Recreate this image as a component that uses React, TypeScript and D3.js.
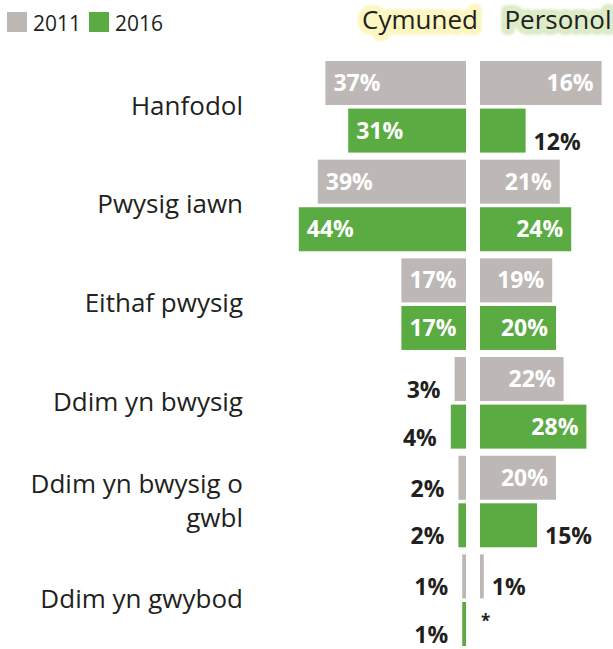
import React from "react";
import * as d3 from "d3";

// categories and series
const categories = [
  "Hanfodol",
  "Pwysig iawn",
  "Eithaf pwysig",
  "Ddim yn bwysig",
  "Ddim yn bwysig o gwbl",
  "Ddim yn gwybod",
];
const years = ["2011", "2016"];

const community2011 = [37, 39, 17, 3, 2, 1];
const community2016 = [31, 44, 17, 4, 2, 1];
// first bar is drawn at twice its labelled length in the source
const personal2011 = [32, 21, 19, 22, 20, 1];
const personal2016 = [12, 24, 20, 28, 15, 0];

const community2011Labels = ["37%", "39%", "17%", "3%", "2%", "1%"];
const community2016Labels = ["31%", "44%", "17%", "4%", "2%", "1%"];
const personal2011Labels = ["16%", "21%", "19%", "22%", "20%", "1%"];
const personal2016Labels = ["12%", "24%", "20%", "28%", "15%", "*"];

const categoryLines: Record<string, string[]> = {
  "Ddim yn bwysig o gwbl": ["Ddim yn bwysig o", "gwbl"],
};

const GREY = "#bdb8b5";
const GREEN = "#5aab41";
const INK = "#231f20";
const FONT = "'Open Sans', 'Noto Sans', sans-serif";

const W = 613;
const H = 649;

export default function App() {
  const y = d3
    .scaleBand<string>()
    .domain(categories)
    .range([61, 646])
    .paddingInner(0.072)
    .paddingOuter(0);

  const yYear = d3
    .scaleBand<string>()
    .domain(years)
    .range([0, y.bandwidth()])
    .paddingInner(0.075);

  const xLeft = d3.scaleLinear().domain([0, 50]).range([466, 276]);
  const xRight = d3.scaleLinear().domain([0, 50]).range([480, 670]);

  const colour = d3.scaleOrdinal<string, string>().domain(years).range([GREY, GREEN]);

  const panels = [
    { side: "left", x: xLeft, series: [community2011, community2016], labels: [community2011Labels, community2016Labels] },
    { side: "right", x: xRight, series: [personal2011, personal2016], labels: [personal2011Labels, personal2016Labels] },
  ];

  const bars: React.ReactNode[] = [];
  panels.forEach((p) => {
    years.forEach((yr, si) => {
      p.series[si].forEach((v, i) => {
        const cat = categories[i];
        const top = (y(cat) ?? 0) + (yYear(yr) ?? 0);
        const h = yYear.bandwidth();
        const x0 = p.x(0);
        const x1 = p.x(v);
        const label = p.labels[si][i];
        const inside = v >= 16;
        const key = `${p.side}-${yr}-${i}`;
        bars.push(
          <rect key={key} x={Math.min(x0, x1)} y={top} width={Math.abs(x1 - x0)} height={h} fill={colour(yr)} />
        );
        let tx: number;
        let anchor: string;
        let ty: number;
        let fill = INK;
        let size = 23;
        if (inside) {
          fill = "#fff";
          ty = top + h / 2 + 8;
          if (p.side === "left") {
            tx = x1 + 8;
            anchor = "start";
          } else {
            tx = x1 - 8;
            anchor = "end";
          }
        } else {
          ty = top + h - 3;
          if (p.side === "left") {
            tx = x1 - 14;
            anchor = "end";
          } else if (v === 0) {
            tx = x0 + 1;
            anchor = "start";
            size = 17;
            ty = top + h - 19;
          } else {
            tx = x1 + 8;
            anchor = "start";
          }
        }
        bars.push(
          <text key={key + "-t"} x={tx} y={ty} textAnchor={anchor} fill={fill} fontSize={size} fontWeight={700} fontFamily={FONT}>
            {label}
          </text>
        );
      });
    });
  });

  return (
    <svg width={W} height={H} style={{ position: "absolute", left: 0, top: 0 }}>
      <defs>
        <filter id="glow" x="-10%" y="-30%" width="120%" height="160%">
          <feGaussianBlur stdDeviation="1.2" />
        </filter>
      </defs>

      {/* legend */}
      {years.map((yr, i) => (
        <g key={yr} transform={`translate(${7 + i * 82},12)`}>
          <rect width={20} height={20} fill={colour(yr)} />
          <text x={26} y={19} fontSize={21} fontFamily={FONT} fill={INK}>
            {yr}
          </text>
        </g>
      ))}

      {/* panel headers */}
      {[
        { t: "Cymuned", x: 420, c: "#fcf6c0" },
        { t: "Personol", x: 558, c: "#dcebc8" },
      ].map((hd) => (
        <g key={hd.t}>
          <text x={hd.x} y={29} textAnchor="middle" fontSize={26} fontFamily={FONT} stroke={hd.c} strokeWidth={12} strokeLinejoin="round" fill={hd.c} filter="url(#glow)">
            {hd.t}
          </text>
          <text x={hd.x} y={29} textAnchor="middle" fontSize={26} fontFamily={FONT} fill={INK}>
            {hd.t}
          </text>
        </g>
      ))}

      {/* category labels */}
      {categories.map((c) => {
        const lines = categoryLines[c] ?? [c];
        const mid = (y(c) ?? 0) + y.bandwidth() / 2;
        return (
          <text key={c} textAnchor="end" fontSize={26} fontFamily={FONT} fill={INK}>
            {lines.map((ln, li) => (
              <tspan key={li} x={243} y={mid + 8 + (li - (lines.length - 1) / 2) * 34}>
                {ln}
              </tspan>
            ))}
          </text>
        );
      })}

      {bars}
    </svg>
  );
}
